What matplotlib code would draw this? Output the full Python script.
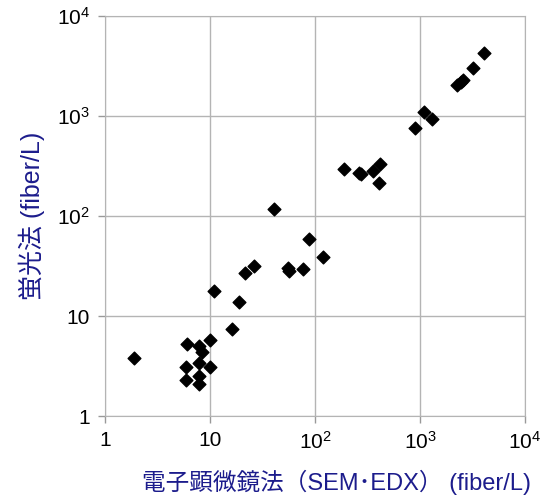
import matplotlib
matplotlib.use('Agg')
import matplotlib.pyplot as plt
from matplotlib.ticker import FixedLocator, NullLocator

plt.rcParams['font.family'] = ['Liberation Sans', 'Noto Sans CJK JP', 'DejaVu Sans']
plt.rcParams['mathtext.fontset'] = 'custom'
plt.rcParams['mathtext.rm'] = 'Liberation Sans'
plt.rcParams['mathtext.it'] = 'Liberation Sans'

# SEM-EDX (x) vs fluorescence method (y), fiber/L
sem_edx = [1.9, 6.0, 7.9, 8.4, 10.0, 7.9, 5.95, 9.9, 7.9, 5.95, 7.9,
           11.0, 16.1, 18.9, 21.7, 26.4, 40.7, 87.7, 120, 55, 56.2, 76.9,
           190, 265, 275, 355, 416, 407, 891, 1092, 1309, 2266, 2450, 2550,
           3176, 4095]
fluor = [3.8, 5.3, 5.05, 4.37, 5.75, 3.37, 3.07, 3.07, 2.51, 2.29, 2.09,
         17.9, 7.41, 13.8, 26.9, 31.8, 117, 58.5, 38.6, 30.4, 28.2, 29.5,
         293, 268, 265, 284, 331, 215, 754, 1089, 940, 2028, 2200, 2310,
         3041, 4295]

ticks = [1, 10, 100, 1000, 10000]
tick_labels = ['1', '10', '$10^2$', '$10^3$', '$10^4$']

label_color = '#1c1c8c'

fig = plt.figure(figsize=(5.49, 4.99), dpi=100)
ax = fig.add_axes([105 / 549, 1 - 416 / 499, 420 / 549, 400 / 499])

ax.scatter(sem_edx, fluor, marker='D', s=42, color='black', zorder=3)

ax.set_xscale('log')
ax.set_yscale('log')
ax.set_xlim(1, 10000)
ax.set_ylim(1, 10000)
ax.xaxis.set_major_locator(FixedLocator(ticks))
ax.yaxis.set_major_locator(FixedLocator(ticks))
ax.xaxis.set_minor_locator(NullLocator())
ax.yaxis.set_minor_locator(NullLocator())
ax.set_xticklabels(tick_labels, fontsize=15)
ax.set_yticklabels(tick_labels, fontsize=15)

ax.grid(True, color='#b4b4b4', linewidth=1)
ax.set_axisbelow(True)
for sp in ax.spines.values():
    sp.set_color('#b4b4b4')
ax.tick_params(axis='both', color='#999999', length=5, width=1, pad=6)

ax.set_xlabel('電子顕微鏡法（SEM･EDX） (fiber/L)', fontsize=17, color=label_color)
ax.xaxis.set_label_coords(0.55, -0.135)
ax.set_ylabel('蛍光法 (fiber/L)', fontsize=18, color=label_color, labelpad=8)

fig.savefig('out.png', dpi=100)
